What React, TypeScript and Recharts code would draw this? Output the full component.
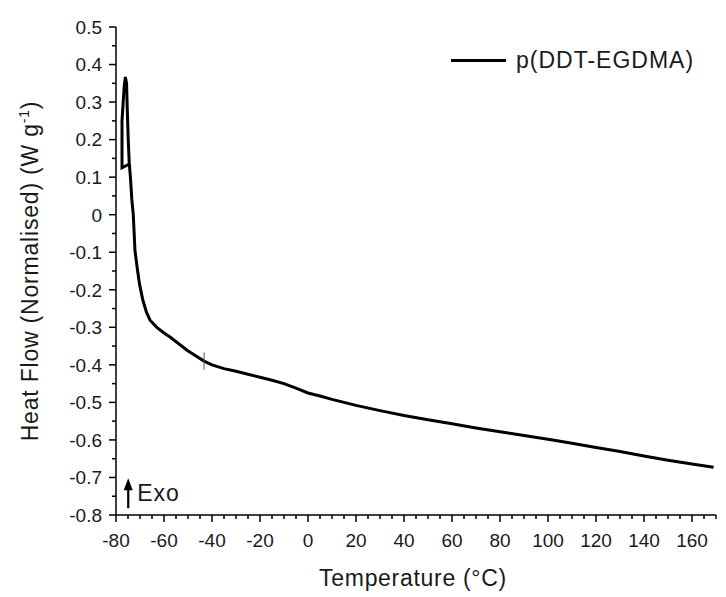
import React from "react";
import {
  LineChart,
  Line,
  XAxis,
  YAxis,
  Legend,
  ReferenceLine,
  ReferenceDot,
} from "recharts";

// DSC trace (temperature in °C, heat flow in W/g)
const temperature = [
  -74.4, -77.5, -77.5, -76.6, -76.1, -75.6, -75.3, -74.9, -74.5, -74.0, -73.4,
  -72.8, -72.1, -71.2, -70.2, -68.8, -67.3, -65.8, -63, -60, -57.5, -54, -50.4,
  -47, -43.3, -40, -35, -30, -25, -20, -15, -10, -5, 0, 5, 10, 15, 20, 30, 40,
  50, 60, 70, 80, 90, 100, 110, 120, 130, 140, 150, 160, 169,
];
const heatFlow = [
  0.135, 0.125, 0.25, 0.34, 0.367, 0.35, 0.28, 0.2, 0.14, 0.1, 0.04, 0.0,
  -0.095, -0.14, -0.185, -0.228, -0.26, -0.281, -0.3, -0.315, -0.326, -0.343,
  -0.361, -0.375, -0.39, -0.4, -0.41, -0.417, -0.425, -0.433, -0.441, -0.45,
  -0.462, -0.475, -0.483, -0.492, -0.5, -0.508, -0.522, -0.535, -0.546, -0.557,
  -0.568, -0.578, -0.588, -0.598, -0.609, -0.62, -0.631, -0.643, -0.654,
  -0.664, -0.673,
];

const xMajorTicks = [-80, -60, -40, -20, 0, 20, 40, 60, 80, 100, 120, 140, 160];
const yMajorTicks = [0.5, 0.4, 0.3, 0.2, 0.1, 0, -0.1, -0.2, -0.3, -0.4, -0.5, -0.6, -0.7, -0.8];

// minor ticks every 5 °C and every 0.05 W/g
const xTicks = Array.from({ length: 51 }, (_, i) => -80 + i * 5);
const yTicks = Array.from({ length: 27 }, (_, i) => (-80 + i * 5) / 100);

const seriesName = "p(DDT-EGDMA)";
const glassMark = { t: -43.3, top: -0.367, bottom: -0.413 };
const exoMark = { t: -74.9, hf: -0.742 };

const data = temperature.map((t, i) => ({ t, hf: heatFlow[i] }));

const FONT = "'Liberation Sans', Arial, sans-serif";
const TEXT = "#1a1a1a";

function XTick(props: any) {
  const { x, y, payload } = props;
  const major = xMajorTicks.includes(payload.value);
  return (
    <g>
      <line x1={x} x2={x} y1={y} y2={y + (major ? 7 : 4)} stroke="#000" strokeWidth={1.5} />
      {major && (
        <text x={x} y={y + 32} textAnchor="middle" fontSize={19} fill={TEXT} fontFamily={FONT}>
          {payload.value}
        </text>
      )}
    </g>
  );
}

function YTick(props: any) {
  const { x, y, payload } = props;
  const v = payload.value as number;
  const major = yMajorTicks.some((m) => Math.abs(m - v) < 1e-6);
  return (
    <g>
      <line x1={x} x2={x - (major ? 7 : 4)} y1={y} y2={y} stroke="#000" strokeWidth={1.5} />
      {major && (
        <text x={x - 14} y={y} dy="0.36em" textAnchor="end" fontSize={19} fill={TEXT} fontFamily={FONT}>
          {Math.abs(v) < 1e-6 ? "0" : v.toFixed(1)}
        </text>
      )}
    </g>
  );
}

function YTitle(props: any) {
  const vb = props.viewBox;
  const cx = vb.x + 38;
  const cy = vb.y + vb.height / 2;
  return (
    <text
      x={cx}
      y={cy}
      transform={`rotate(-90, ${cx}, ${cy})`}
      textAnchor="middle"
      fontSize={23}
      letterSpacing={0.8}
      fill={TEXT}
      fontFamily={FONT}
    >
      Heat Flow (Normalised) (W g
      <tspan dy={-9} fontSize={14}>-1</tspan>
      <tspan dy={9}>)</tspan>
    </text>
  );
}

function XTitle(props: any) {
  const vb = props.viewBox;
  return (
    <text
      x={vb.x + vb.width / 2 - 3}
      y={vb.y + 71}
      textAnchor="middle"
      fontSize={23}
      letterSpacing={0.7}
      fill={TEXT}
      fontFamily={FONT}
    >
      Temperature (°C)
    </text>
  );
}

function ExoArrow(props: any) {
  const { cx, cy } = props;
  return (
    <g>
      <line x1={cx} x2={cx} y1={cy - 4} y2={cy + 15} stroke="#000" strokeWidth={2.2} />
      <path d={`M ${cx} ${cy - 15} L ${cx - 4.5} ${cy - 3} L ${cx + 4.5} ${cy - 3} Z`} fill="#000" />
      <text x={cx + 9} y={cy + 8} fontSize={23} letterSpacing={1} fill={TEXT} fontFamily={FONT}>
        Exo
      </text>
    </g>
  );
}

function LegendBox() {
  return (
    <div style={{ display: "flex", alignItems: "center", fontFamily: FONT }}>
      <div style={{ width: 55, height: 3, background: "#000", marginRight: 10 }} />
      <span style={{ fontSize: 23, letterSpacing: 1, color: TEXT, whiteSpace: "nowrap" }}>
        {seriesName}
      </span>
    </div>
  );
}

export default function App() {
  return (
    <div style={{ position: "absolute", left: 0, top: 0, width: 726, height: 597, background: "#fff" }}>
      <LineChart width={726} height={597} data={data} margin={{ top: 27, right: 10, left: 0, bottom: 0 }}>
        <XAxis
          dataKey="t"
          type="number"
          domain={[-80, 170]}
          ticks={xTicks}
          interval={0}
          tickSize={0}
          tickMargin={0}
          tickLine={false}
          height={82}
          tick={<XTick />}
          axisLine={{ stroke: "#000", strokeWidth: 1.5 }}
          label={{ content: XTitle }}
        />
        <YAxis
          type="number"
          domain={[-0.8, 0.5]}
          ticks={yTicks}
          interval={0}
          tickSize={0}
          tickMargin={0}
          tickLine={false}
          width={116}
          tick={<YTick />}
          axisLine={{ stroke: "#000", strokeWidth: 1.5 }}
          label={{ content: YTitle }}
        />
        <Legend
          layout="horizontal"
          verticalAlign="middle"
          align="center"
          content={<LegendBox />}
          wrapperStyle={{ top: 47, left: 451, width: 275, height: 26 }}
        />
        <Line
          dataKey="hf"
          name={seriesName}
          type="linear"
          stroke="#000"
          strokeWidth={3}
          dot={false}
          isAnimationActive={false}
        />
        <ReferenceLine
          segment={[
            { x: glassMark.t, y: glassMark.top },
            { x: glassMark.t, y: glassMark.bottom },
          ]}
          stroke="#555"
          strokeWidth={1}
        />
        <ReferenceDot x={exoMark.t} y={exoMark.hf} shape={ExoArrow} />
      </LineChart>
    </div>
  );
}
